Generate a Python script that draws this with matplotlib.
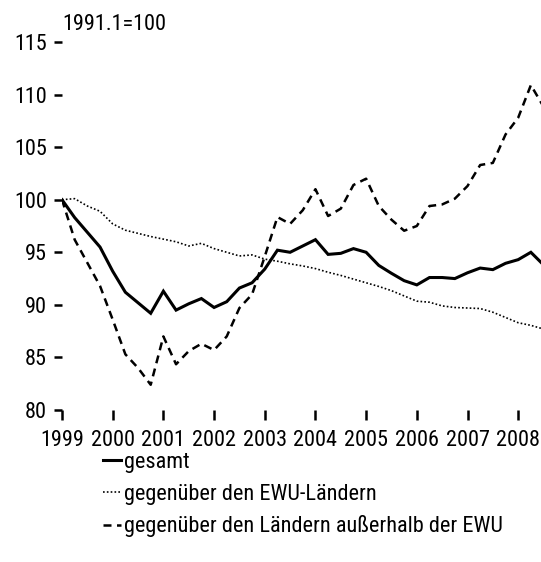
import matplotlib
matplotlib.use("Agg")
import matplotlib.pyplot as plt
from matplotlib import font_manager
import numpy as np

# quarterly data, 1999 Q1 .. 2008 Q3
start_year = 1999
gesamt = [100.0, 98.3, 96.9, 95.5, 93.2, 91.2, 90.2, 89.2, 91.3, 89.5,
          90.1, 90.6, 89.75, 90.3, 91.6, 92.1, 93.4, 95.2, 95.0, 95.6,
          96.2, 94.8, 94.9, 95.35, 95.0, 93.75, 93.0, 92.3, 91.9, 92.6,
          92.6, 92.5, 93.05, 93.5, 93.35, 93.95, 94.3, 95.0, 93.8]
ewu = [100.0, 100.1, 99.4, 98.9, 97.7, 97.1, 96.8, 96.5, 96.25, 96.0,
       95.6, 95.85, 95.35, 95.0, 94.65, 94.75, 94.35, 94.15, 93.9, 93.7,
       93.45, 93.1, 92.8, 92.45, 92.1, 91.75, 91.35, 90.85, 90.35, 90.25,
       89.9, 89.75, 89.7, 89.65, 89.3, 88.8, 88.3, 88.05, 87.7]
ausser = [100.0, 96.2, 94.0, 91.8, 88.6, 85.3, 84.0, 82.4, 87.0, 84.35,
          85.6, 86.3, 85.7, 87.0, 89.7, 91.0, 94.6, 98.35, 97.7, 99.0,
          101.0, 98.45, 99.15, 101.4, 102.0, 99.4, 98.1, 97.05, 97.5, 99.4,
          99.55, 100.1, 101.3, 103.3, 103.5, 106.2, 107.8, 110.9, 108.85]
labels = ["gesamt", "gegenüber den EWU-Ländern",
          "gegenüber den Ländern außerhalb der EWU"]
years = list(range(1999, 2009))
yticks = [80, 85, 90, 95, 100, 105, 110, 115]
note = "1991.1=100"

names = {f.name for f in font_manager.fontManager.ttflist}
fam = ["Liberation Sans Narrow"] if "Liberation Sans Narrow" in names else ["Roboto Condensed", "Liberation Sans"]
plt.rcParams["font.family"] = fam + ["DejaVu Sans"]

t = start_year + np.arange(len(gesamt)) / 4.0

fig = plt.figure(figsize=(5.41, 5.62), dpi=100)
ax = fig.add_axes([62 / 541, 1 - 410 / 562, 1 - 62 / 541, (410 - 42) / 562])

l1, = ax.plot(t, gesamt, color="black", lw=2.2, solid_joinstyle="miter")
l2, = ax.plot(t, ewu, color="black", lw=1.2, linestyle=(0, (1, 1.3)))
l3, = ax.plot(t, ausser, color="black", lw=1.8, linestyle=(0, (3.2, 2.2)))

ax.set_xlim(1999.0, 2008.45)
ax.set_ylim(80, 115)
ax.set_xticks(years)
ax.set_xticklabels([str(y) for y in years])
ax.set_yticks(yticks)
for s in ax.spines.values():
    s.set_visible(False)
ax.tick_params(axis="y", direction="out", length=5.5, width=1.8, pad=5.5,
               labelsize=16)
ax.tick_params(axis="x", direction="out", length=7, width=1.8, pad=7.5,
               labelsize=16)

ax.text(0.0, 1.0 + 7 / 368, note, transform=ax.transAxes, ha="left",
        va="bottom", fontsize=16)

fig.legend([l1, l2, l3], labels, loc="upper left",
           bbox_to_anchor=(103 / 541, 1 - 452 / 562), frameon=False,
           fontsize=16, handlelength=0.8, handletextpad=0.15,
           labelspacing=0.48, borderaxespad=0, borderpad=0)

fig.savefig("out.png", dpi=100)
